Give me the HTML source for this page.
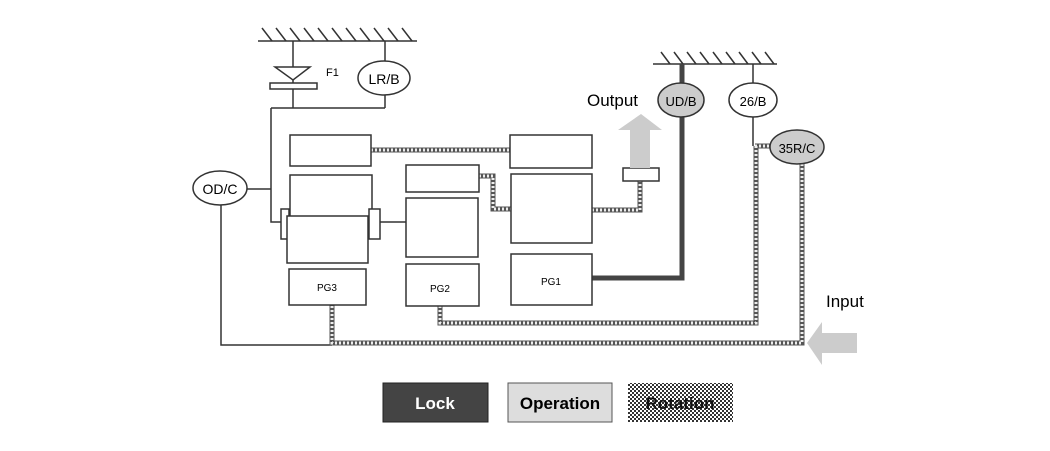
<!DOCTYPE html>
<html><head><meta charset="utf-8"><style>
html,body{margin:0;padding:0;background:#fff;}
svg{display:block;}
text{font-family:"Liberation Sans",sans-serif;}
</style></head><body>
<svg width="1050" height="451" viewBox="0 0 1050 451" xmlns="http://www.w3.org/2000/svg">
<defs>
<pattern id="chk" width="4" height="4" patternUnits="userSpaceOnUse">
<rect width="4" height="4" fill="#fff"/><rect width="2" height="2" fill="#333"/><rect x="2" y="2" width="2" height="2" fill="#333"/>
</pattern>
</defs>
<g stroke="#333" stroke-width="1.5" fill="none">
<line x1="258" y1="41" x2="417" y2="41"/>
<path d="M262 28l10 13M276 28l10 13M290 28l10 13M304 28l10 13M318 28l10 13M332 28l10 13M346 28l10 13M360 28l10 13M374 28l10 13M388 28l10 13M402 28l10 13"/>
<line x1="293" y1="41" x2="293" y2="108"/>
<line x1="385" y1="41" x2="385" y2="61"/>
<line x1="385" y1="95" x2="385" y2="108"/>
<line x1="271" y1="108" x2="385" y2="108"/>
<polyline points="271,108 271,222 281,222"/>
<line x1="247" y1="189" x2="271" y2="189"/>
<polyline points="221,205 221,345 332,345"/>
<line x1="380" y1="222" x2="406" y2="222"/>
<line x1="653" y1="64" x2="777" y2="64"/>
<path d="M661 52l9 12M674 52l9 12M687 52l9 12M700 52l9 12M713 52l9 12M726 52l9 12M739 52l9 12M752 52l9 12M765 52l9 12"/>
<line x1="753" y1="64" x2="753" y2="83"/>
<line x1="753" y1="117" x2="753" y2="146"/>
</g>
<polygon points="275,67 310,67 293,80" fill="#fff" stroke="#333" stroke-width="1.5"/>
<rect x="270" y="83" width="47" height="6" fill="#fff" stroke="#333" stroke-width="1.5"/>
<text x="326" y="76" font-size="11">F1</text>
<ellipse cx="384" cy="78" rx="26" ry="17" fill="#fff" stroke="#333" stroke-width="1.5"/>
<text x="384" y="84" font-size="14" text-anchor="middle">LR/B</text>
<ellipse cx="220" cy="188" rx="27" ry="17" fill="#fff" stroke="#333" stroke-width="1.5"/>
<text x="220" y="194" font-size="14" text-anchor="middle">OD/C</text>
<polyline points="682,64 682,278 592,278" fill="none" stroke="#444" stroke-width="5"/>
<g fill="none">
<g stroke="#555" stroke-width="5">
<line x1="371" y1="150" x2="510" y2="150"/>
<polyline points="479,176 493,176 493,209 511,209"/>
<polyline points="592,210 640,210 640,181"/>
<polyline points="755,146 770,146"/>
<polyline points="756,146 756,323 440,323 440,306"/>
<polyline points="802,164 802,343 332,343 332,305"/>
</g>
<g stroke="#eee" stroke-width="3" stroke-dasharray="2 2">
<line x1="371" y1="150" x2="510" y2="150"/>
<polyline points="479,176 493,176 493,209 511,209"/>
<polyline points="592,210 640,210 640,181"/>
<polyline points="755,146 770,146"/>
<polyline points="756,146 756,323 440,323 440,306"/>
<polyline points="802,164 802,343 332,343 332,305"/>
</g>
</g>
<g fill="#fff" stroke="#333" stroke-width="1.5">
<rect x="290" y="135" width="81" height="31"/>
<rect x="290" y="175" width="82" height="45"/>
<rect x="281" y="209" width="8" height="30"/>
<rect x="369" y="209" width="11" height="30"/>
<rect x="287" y="216" width="81" height="47"/>
<rect x="289" y="269" width="77" height="36"/>
<rect x="406" y="165" width="73" height="27"/>
<rect x="406" y="198" width="72" height="59"/>
<rect x="406" y="264" width="73" height="42"/>
<rect x="510" y="135" width="82" height="33"/>
<rect x="511" y="174" width="81" height="69"/>
<rect x="511" y="254" width="81" height="51"/>
<rect x="623" y="168" width="36" height="13"/>
</g>
<text x="327" y="291" font-size="10" text-anchor="middle">PG3</text>
<text x="440" y="292" font-size="10" text-anchor="middle">PG2</text>
<text x="551" y="285" font-size="10" text-anchor="middle">PG1</text>
<polygon points="630,168 650,168 650,130 662,130 641,114 618,130 630,130" fill="#ccc"/>
<text x="587" y="106" font-size="17">Output</text>
<ellipse cx="681" cy="100" rx="23" ry="17" fill="#ccc" stroke="#333" stroke-width="1.5"/>
<text x="681" y="106" font-size="13" text-anchor="middle">UD/B</text>
<ellipse cx="753" cy="100" rx="24" ry="17" fill="#fff" stroke="#333" stroke-width="1.5"/>
<text x="753" y="106" font-size="13" text-anchor="middle">26/B</text>
<ellipse cx="797" cy="147" rx="27" ry="17" fill="#ccc" stroke="#333" stroke-width="1.5"/>
<text x="797" y="153" font-size="13" text-anchor="middle">35R/C</text>
<polygon points="807,343 822,322 822,333 857,333 857,353 822,353 822,365" fill="#ccc"/>
<text x="826" y="307" font-size="17">Input</text>
<rect x="383" y="383" width="105" height="39" fill="#444" stroke="#222"/>
<text x="435" y="409" font-size="17" font-weight="bold" fill="#fff" text-anchor="middle">Lock</text>
<rect x="508" y="383" width="104" height="39" fill="#ddd" stroke="#555"/>
<text x="560" y="409" font-size="17" font-weight="bold" text-anchor="middle">Operation</text>
<rect x="628" y="383" width="105" height="39" fill="url(#chk)"/>
<text x="680" y="409" font-size="17" font-weight="bold" text-anchor="middle" fill="#111">Rotation</text>
</svg>
</body></html>
